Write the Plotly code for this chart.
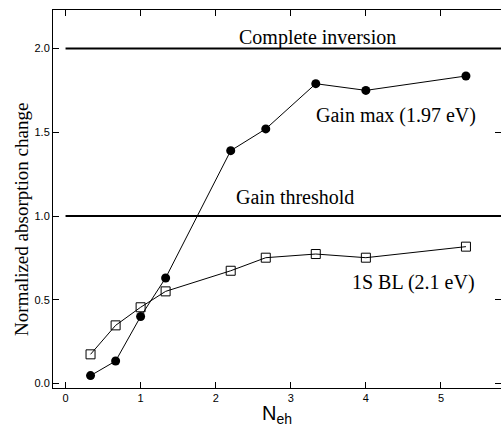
import plotly.graph_objects as go

n_eh = [0.333, 0.667, 1.0, 1.333, 2.2, 2.667, 3.333, 4.0, 5.333]
gain_max = [0.047, 0.134, 0.40, 0.63, 1.39, 1.52, 1.79, 1.75, 1.836]
bl_1s = [0.174, 0.347, 0.455, 0.55, 0.673, 0.751, 0.773, 0.751, 0.817]
ref_levels = [2.0, 1.0]
ref_labels = ["Complete inversion", "Gain threshold"]
x_ticks = [0, 1, 2, 3, 4, 5]
y_ticks = [0.0, 0.5, 1.0, 1.5, 2.0]

fig = go.Figure()
for lvl in ref_levels:
    fig.add_trace(go.Scatter(x=[0, 6], y=[lvl, lvl], mode="lines",
                             line=dict(color="black", width=2), showlegend=False, hoverinfo="skip"))
fig.add_trace(go.Scatter(x=n_eh, y=gain_max, mode="lines+markers",
                         line=dict(color="black", width=1),
                         marker=dict(symbol="circle", size=9, color="black"), showlegend=False))
fig.add_trace(go.Scatter(x=n_eh, y=bl_1s, mode="lines+markers",
                         line=dict(color="black", width=1),
                         marker=dict(symbol="square-open", size=9, color="black", line=dict(width=1)),
                         showlegend=False))

serif = "Liberation Serif, Times New Roman, serif"
sans = "Liberation Sans, Arial, sans-serif"
ann = [
    (3.35, 2.066, ref_labels[0]),
    (4.40, 1.603, "Gain max (1.97 eV)"),
    (3.06, 1.113, ref_labels[1]),
    (4.64, 0.603, "1S BL (2.1 eV)"),
]
for x, y, t in ann:
    fig.add_annotation(x=x, y=y, text=t, showarrow=False,
                       font=dict(family=serif, size=20, color="black"))

# y-axis title placed as a rotated annotation
fig.add_annotation(x=-0.069, y=0.445, xref="paper", yref="paper",
                   text="Normalized absorption change", textangle=-90, showarrow=False,
                   xanchor="center", yanchor="middle",
                   font=dict(family=serif, size=19, color="black"))

axis_common = dict(showline=True, linecolor="black", linewidth=1, mirror="ticks",
                   ticks="inside", ticklen=6, tickcolor="black", tickwidth=1,
                   showgrid=False, zeroline=False, automargin=False,
                   tickfont=dict(family=sans, size=11, color="black"))

fig.update_layout(
    width=501, height=427, autosize=False,
    margin=dict(l=53, r=0, t=10, b=39),
    plot_bgcolor="white", paper_bgcolor="white",
    xaxis=dict(range=[-0.167, 5.80], tickvals=x_ticks,
               title=dict(text="N<sub>eh</sub>", standoff=2,
                          font=dict(family=sans, size=20, color="black")),
               **axis_common),
    yaxis=dict(range=[-0.027, 2.23], tickvals=y_ticks, tickformat=".1f",
               **axis_common),
)

fig.write_html("out.html", config={"responsive": False, "displayModeBar": False},
               post_script="document.body.style.margin='0';document.body.style.overflow='hidden';")
